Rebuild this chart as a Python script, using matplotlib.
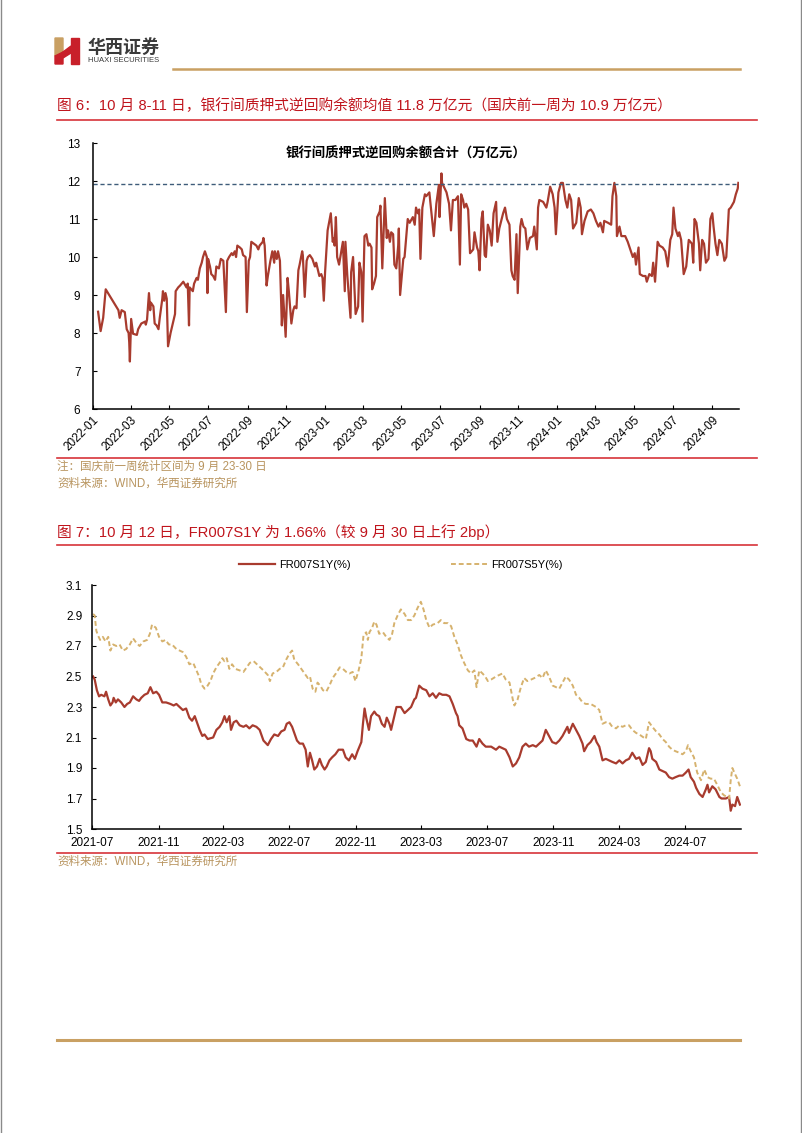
import numpy as np
import pandas as pd
import matplotlib
matplotlib.use('Agg')
import matplotlib.pyplot as plt
import matplotlib.dates as mdates
from matplotlib.lines import Line2D
from matplotlib.patches import Polygon

plt.rcParams['font.family'] = ['Liberation Sans', 'Noto Sans CJK SC', 'DejaVu Sans']

# ---- data: chart 1, interbank pledged reverse repo balance (trillion yuan)
# days counted from 2022-01-01
repo_days = [8, 12, 16, 20, 40, 42, 45, 50, 53, 56, 57, 58, 60, 63, 69, 71, 76, 82, 83, 85,
             88, 90, 91, 95, 97, 100, 103, 105, 109, 110, 112, 114, 116, 118, 122, 129, 130, 134, 137, 142,
             147, 149, 151, 152, 157, 159, 163, 165, 168, 171, 173, 176, 179, 180, 181, 184, 186, 189, 192, 194,
             198, 201, 205, 209, 211, 214, 218, 220, 223, 225, 227, 231, 234, 236, 240, 242, 245, 247, 249, 253,
             257, 260, 262, 267, 268, 270, 273, 275, 279, 282, 285, 286, 289, 291, 294, 297, 299, 303, 306, 308,
             312, 315, 317, 320, 323, 325, 329, 330, 333, 336, 338, 341, 345, 349, 351, 356, 359, 361, 363, 365,
             369, 374, 377, 379, 380, 382, 384, 387, 390, 393, 396, 397, 400, 405, 406, 409, 413, 417, 419, 422,
             424, 427, 430, 433, 435, 438, 439, 442, 445, 447, 451, 452, 455, 459, 462, 464, 467, 469, 472, 474,
             477, 480, 481, 483, 488, 490, 495, 498, 503, 506, 508, 511, 513, 515, 518, 522, 524, 529, 536, 540,
             544, 545, 548, 549, 556, 560, 563, 566, 570, 574, 577, 579, 582, 584, 587, 590, 593, 598, 600, 604,
             606, 608, 611, 613, 616, 618, 621, 624, 627, 630, 634, 636, 639, 645, 648, 651, 655, 658, 660, 663,
             666, 668, 672, 674, 677, 680, 683, 687, 692, 694, 698, 700, 702, 708, 713, 715, 719, 723, 726, 728,
             732, 736, 739, 743, 746, 749, 752, 755, 760, 764, 767, 769, 773, 778, 783, 787, 791, 795, 798, 802,
             804, 810, 815, 817, 820, 823, 824, 828, 831, 837, 841, 845, 849, 852, 854, 858, 860, 865, 869, 871,
             875, 879, 881, 884, 888, 891, 896, 900, 904, 908, 911, 913, 916, 920, 922, 925, 929, 933, 937, 942,
             944, 946, 949, 953, 955, 958, 961, 964, 968, 971, 974, 976, 979, 982, 985, 989, 993, 996, 1000, 1003,
             1008, 1011, 1014, 1015]
repo_vals = [8.56, 8.05, 8.40, 9.15, 8.60, 8.40, 8.60, 8.55, 8.10, 8.00, 7.75, 7.25, 8.37, 7.98, 7.95, 8.10, 8.25, 8.30, 8.22, 8.35,
             9.05, 8.60, 8.80, 8.70, 8.25, 8.20, 8.10, 8.40, 8.90, 9.10, 8.85, 9.05, 8.90, 7.65, 8.00, 8.50, 9.10, 9.20, 9.25, 9.35,
             9.20, 9.30, 8.20, 9.20, 9.10, 9.30, 9.45, 9.40, 9.70, 9.85, 10.00, 10.15, 10.00, 9.05, 9.95, 9.75, 9.55, 9.50, 9.40, 9.75,
             9.70, 9.95, 9.90, 8.55, 9.90, 10.00, 10.10, 10.05, 10.15, 10.00, 10.30, 10.25, 10.20, 10.05, 10.00, 8.55, 9.90, 10.00, 10.40, 10.35,
             10.30, 10.20, 10.30, 10.40, 10.50, 10.30, 9.25, 9.50, 9.90, 10.15, 9.85, 10.15, 9.95, 10.15, 9.90, 8.20, 9.00, 7.90, 9.45, 9.10,
             8.25, 8.60, 8.70, 8.65, 9.65, 9.80, 10.15, 10.05, 8.95, 9.90, 10.00, 10.05, 9.95, 9.75, 9.85, 9.50, 9.55, 9.45, 8.85, 9.60,
             10.70, 11.15, 10.40, 10.50, 10.30, 11.05, 10.00, 9.80, 10.10, 10.40, 9.10, 10.40, 9.50, 8.40, 9.60, 10.00, 8.50, 8.70, 9.85, 9.60,
             8.30, 10.55, 10.60, 10.30, 10.35, 10.25, 9.15, 9.30, 9.50, 11.05, 11.20, 11.35, 9.70, 11.55, 10.50, 10.70, 10.40, 10.65, 10.60, 9.80,
             9.70, 10.30, 10.75, 9.00, 9.95, 10.00, 11.00, 10.90, 11.05, 10.85, 11.30, 11.15, 11.25, 9.95, 11.30, 11.65, 11.60, 11.70, 10.55, 11.40,
             11.90, 11.05, 12.20, 11.95, 11.70, 11.40, 10.70, 11.50, 11.50, 11.60, 9.80, 11.65, 11.50, 11.30, 11.40, 11.25, 10.10, 10.20, 10.65, 10.25,
             10.15, 9.65, 11.00, 11.20, 10.05, 10.00, 10.85, 10.70, 10.30, 11.15, 11.45, 10.40, 10.75, 11.15, 11.30, 11.00, 10.85, 9.65, 9.50, 9.40,
             10.60, 9.05, 10.80, 11.00, 10.80, 10.75, 10.20, 10.50, 10.55, 10.80, 10.20, 11.30, 11.50, 11.45, 11.30, 11.45, 11.85, 11.65, 11.30, 10.60,
             11.70, 11.95, 11.95, 11.50, 11.30, 11.65, 11.50, 10.75, 10.90, 11.55, 11.30, 10.60, 10.95, 11.20, 11.25, 11.15, 10.95, 10.80, 10.90, 10.65,
             10.95, 10.90, 10.85, 11.60, 11.95, 11.60, 10.55, 10.80, 10.55, 10.55, 10.40, 10.20, 10.00, 10.10, 9.80, 10.25, 9.55, 9.50, 9.50, 9.35,
             9.55, 9.50, 9.85, 9.35, 10.40, 10.30, 10.25, 10.15, 9.75, 10.45, 10.60, 11.30, 10.75, 10.55, 10.65, 10.45, 9.55, 9.75, 10.45, 10.35,
             9.85, 11.00, 10.90, 10.35, 9.65, 10.45, 10.35, 9.85, 9.95, 11.00, 11.15, 10.80, 10.35, 10.05, 10.45, 10.35, 9.90, 10.00, 11.25, 11.30,
             11.45, 11.65, 11.80, 11.95]
repo_ref = 11.93

# ---- data: chart 2, FR007 swap rates (%), days counted from 2021-07-01
s1y_days = [2, 5, 9, 13, 17, 23, 26, 30, 34, 38, 40, 44, 48, 54, 60, 65, 70, 76, 82, 87,
            91, 97, 103, 108, 113, 119, 124, 130, 137, 145, 151, 156, 162, 168, 174, 180, 185, 190, 194, 199,
            204, 208, 214, 224, 230, 236, 241, 245, 249, 254, 257, 262, 267, 273, 280, 285, 291, 297, 304, 310,
            317, 325, 331, 337, 344, 350, 356, 360, 365, 370, 374, 379, 384, 390, 395, 399, 403, 407, 411, 416,
            421, 425, 430, 434, 439, 444, 450, 456, 464, 469, 475, 481, 486, 491, 498, 501, 504, 507, 512, 516,
            522, 526, 531, 536, 541, 545, 550, 553, 557, 563, 571, 578, 584, 590, 596, 599, 605, 611, 618, 624,
            630, 636, 642, 648, 655, 661, 667, 673, 676, 679, 685, 692, 698, 704, 711, 716, 722, 728, 738, 747,
            753, 759, 765, 772, 778, 784, 790, 796, 802, 808, 815, 821, 827, 833, 839, 845, 851, 858, 864, 870,
            876, 879, 882, 889, 895, 901, 907, 910, 916, 922, 929, 933, 938, 944, 950, 956, 962, 969, 975, 981,
            987, 993, 999, 1006, 1012, 1018, 1024, 1030, 1033, 1036, 1043, 1049, 1055, 1061, 1067, 1073, 1079, 1086, 1092, 1098,
            1103, 1107, 1113, 1117, 1123, 1129, 1135, 1138, 1141, 1147, 1153, 1160, 1164, 1172, 1178, 1181, 1184, 1189, 1193, 1198]
s1y_vals = [2.50, 2.48, 2.41, 2.37, 2.38, 2.37, 2.40, 2.35, 2.31, 2.33, 2.36, 2.33, 2.35, 2.33, 2.30, 2.32, 2.33, 2.37, 2.35, 2.34,
            2.36, 2.38, 2.39, 2.43, 2.39, 2.40, 2.38, 2.33, 2.33, 2.32, 2.31, 2.32, 2.30, 2.28, 2.29, 2.23, 2.21, 2.24, 2.20, 2.15,
            2.11, 2.12, 2.09, 2.10, 2.15, 2.17, 2.20, 2.24, 2.20, 2.24, 2.15, 2.20, 2.21, 2.18, 2.17, 2.18, 2.16, 2.18, 2.17, 2.15,
            2.08, 2.05, 2.09, 2.12, 2.11, 2.14, 2.15, 2.19, 2.20, 2.17, 2.13, 2.08, 2.06, 2.06, 2.02, 1.91, 2.00, 1.95, 1.89, 1.91,
            1.96, 1.92, 1.89, 1.91, 1.95, 1.97, 1.99, 2.02, 2.02, 1.97, 1.95, 1.99, 1.96, 2.01, 2.07, 2.19, 2.29, 2.23, 2.15, 2.24,
            2.27, 2.25, 2.24, 2.19, 2.17, 2.23, 2.19, 2.15, 2.21, 2.30, 2.30, 2.26, 2.28, 2.30, 2.35, 2.36, 2.44, 2.42, 2.41, 2.37,
            2.39, 2.36, 2.39, 2.38, 2.38, 2.37, 2.32, 2.26, 2.24, 2.18, 2.16, 2.09, 2.08, 2.08, 2.04, 2.09, 2.06, 2.04, 2.04, 2.02,
            2.04, 2.03, 2.02, 1.97, 1.91, 1.93, 1.97, 2.04, 2.06, 2.04, 2.05, 2.04, 2.06, 2.08, 2.15, 2.11, 2.07, 2.06, 2.08, 2.11,
            2.15, 2.17, 2.13, 2.19, 2.15, 2.11, 2.06, 2.01, 2.05, 2.07, 2.11, 2.07, 2.04, 1.95, 1.96, 1.95, 1.94, 1.93, 1.95, 1.93,
            1.95, 1.96, 2.00, 1.96, 1.97, 1.92, 1.94, 2.03, 2.01, 1.96, 1.94, 1.89, 1.88, 1.87, 1.84, 1.83, 1.84, 1.85, 1.85, 1.87,
            1.89, 1.84, 1.81, 1.77, 1.73, 1.71, 1.76, 1.79, 1.74, 1.78, 1.76, 1.71, 1.70, 1.70, 1.71, 1.62, 1.66, 1.65, 1.71, 1.66]

s5y_days = [2, 5, 8, 11, 15, 20, 25, 30, 34, 39, 45, 51, 57, 63, 70, 76, 82, 88, 95, 102,
            107, 111, 118, 124, 130, 136, 142, 148, 156, 162, 168, 174, 180, 187, 193, 198, 202, 208, 212, 219,
            224, 230, 236, 241, 245, 249, 254, 259, 265, 273, 280, 286, 292, 299, 305, 311, 317, 325, 329, 334,
            341, 347, 353, 359, 365, 370, 374, 381, 387, 393, 399, 403, 408, 413, 417, 422, 427, 433, 439, 445,
            451, 458, 464, 470, 476, 482, 487, 493, 498, 502, 507, 510, 513, 518, 522, 526, 531, 538, 544, 550,
            555, 559, 565, 571, 578, 584, 590, 596, 602, 608, 613, 618, 624, 630, 639, 645, 651, 658, 664, 670,
            676, 682, 688, 695, 701, 707, 711, 716, 722, 727, 732, 738, 747, 753, 759, 765, 772, 778, 781, 787,
            793, 799, 805, 812, 818, 827, 833, 839, 845, 852, 858, 864, 870, 876, 882, 889, 895, 901, 907, 913,
            922, 932, 938, 944, 950, 956, 962, 969, 975, 981, 987, 993, 999, 1006, 1012, 1024, 1030, 1036, 1043, 1049,
            1055, 1061, 1067, 1073, 1079, 1086, 1092, 1098, 1102, 1107, 1113, 1119, 1126, 1132, 1138, 1144, 1150, 1156, 1163, 1169,
            1175, 1178, 1181, 1184, 1189, 1193, 1198]
s5y_vals = [2.91, 2.90, 2.80, 2.77, 2.74, 2.76, 2.73, 2.76, 2.67, 2.71, 2.70, 2.71, 2.67, 2.68, 2.71, 2.75, 2.72, 2.70, 2.73, 2.74,
            2.78, 2.84, 2.82, 2.76, 2.73, 2.74, 2.71, 2.71, 2.68, 2.67, 2.66, 2.63, 2.58, 2.59, 2.54, 2.50, 2.45, 2.42, 2.43, 2.47,
            2.52, 2.56, 2.59, 2.62, 2.60, 2.62, 2.55, 2.58, 2.55, 2.54, 2.53, 2.56, 2.59, 2.60, 2.58, 2.56, 2.54, 2.51, 2.47, 2.52,
            2.53, 2.55, 2.56, 2.61, 2.65, 2.67, 2.61, 2.58, 2.55, 2.52, 2.49, 2.50, 2.42, 2.40, 2.46, 2.44, 2.41, 2.40, 2.44, 2.49,
            2.52, 2.56, 2.55, 2.53, 2.52, 2.53, 2.47, 2.54, 2.62, 2.77, 2.79, 2.74, 2.79, 2.82, 2.86, 2.84, 2.78, 2.79, 2.76, 2.74,
            2.78, 2.85, 2.90, 2.94, 2.91, 2.87, 2.87, 2.90, 2.95, 2.99, 2.94, 2.87, 2.82, 2.84, 2.85, 2.87, 2.85, 2.85, 2.83, 2.76,
            2.71, 2.64, 2.59, 2.54, 2.52, 2.54, 2.43, 2.54, 2.52, 2.50, 2.47, 2.48, 2.50, 2.51, 2.52, 2.48, 2.46, 2.35, 2.31, 2.35,
            2.43, 2.49, 2.47, 2.48, 2.49, 2.51, 2.49, 2.54, 2.50, 2.44, 2.43, 2.42, 2.46, 2.50, 2.48, 2.44, 2.38, 2.36, 2.33, 2.32,
            2.32, 2.30, 2.28, 2.19, 2.20, 2.20, 2.17, 2.16, 2.18, 2.17, 2.18, 2.18, 2.15, 2.13, 2.12, 2.09, 2.20, 2.17, 2.14, 2.12,
            2.09, 2.07, 2.04, 2.02, 2.01, 2.00, 1.99, 2.01, 2.05, 2.01, 1.97, 1.87, 1.82, 1.89, 1.84, 1.83, 1.83, 1.79, 1.74, 1.72,
            1.71, 1.70, 1.82, 1.90, 1.86, 1.83, 1.78]

repo_dates = pd.Timestamp('2022-01-01') + pd.to_timedelta(repo_days, unit='D')
s1y_dates = pd.Timestamp('2021-07-01') + pd.to_timedelta(s1y_days, unit='D')
s5y_dates = pd.Timestamp('2021-07-01') + pd.to_timedelta(s5y_days, unit='D')

RED_TXT = '#C0141C'
RED_LINE = '#D7333A'
GOLD = '#C9A063'
NOTE = '#B8945E'
SER_RED = '#A83B2E'
SER_GOLD = '#D6B26E'

W, H = 802, 1133
fig = plt.figure(figsize=(W / 100, H / 100), dpi=100)


def fx(x):
    return x / W


def fy(y):
    return 1 - y / H


def hline(y, x0, x1, color, lw):
    fig.add_artist(Line2D([fx(x0), fx(x1)], [fy(y), fy(y)], color=color, lw=lw))


# page border
fig.add_artist(Line2D([fx(0.5), fx(0.5)], [0, 1], color='#8a8a8a', lw=1))
fig.add_artist(Line2D([fx(800.5), fx(800.5)], [0, 1], color='#8a8a8a', lw=1))

# header logo
fig.add_artist(Polygon([(fx(55), fy(38)), (fx(63), fy(38)), (fx(63), fy(52)), (fx(55), fy(56))],
                       closed=True, color='#C9A063'))
fig.add_artist(Polygon([(fx(55), fy(56)), (fx(63), fy(52)), (fx(63), fy(64)), (fx(55), fy(64))],
                       closed=True, color='#C8202A'))
fig.add_artist(Polygon([(fx(71), fy(38)), (fx(79), fy(38)), (fx(79), fy(64)), (fx(71), fy(64))],
                       closed=True, color='#C8202A'))
fig.add_artist(Polygon([(fx(63), fy(52)), (fx(71), fy(46)), (fx(71), fy(53)), (fx(63), fy(58))],
                       closed=True, color='#C8202A'))
fig.text(fx(88), fy(47), '华西证券', fontsize=13, fontweight='bold', color='#3a3a3a',
         family=['Noto Sans CJK SC'], va='center', ha='left')
fig.text(fx(88), fy(61), 'HUAXI SECURITIES', fontsize=5.5, color='#3a3a3a', va='center', ha='left')
hline(69, 173, 740, GOLD, 1.8)

# figure 6 title
fig.text(fx(57), fy(106), '图 6：10 月 8-11 日，银行间质押式逆回购余额均值 11.8 万亿元（国庆前一周为 10.9 万亿元）',
         fontsize=10.6, color=RED_TXT, va='center', ha='left')
hline(120, 57, 757, RED_LINE, 1.2)

ax1 = fig.add_axes([fx(93), fy(409), (739 - 93) / W, 266 / H])
ax1.plot(repo_dates, repo_vals, color=SER_RED, lw=1.6)
ax1.axhline(repo_ref, color='#3E5C7A', lw=1, ls=(0, (3, 2)))
ax1.set_ylim(6, 13)
ax1.set_yticks(range(6, 14))
ax1.set_xlim(pd.Timestamp('2022-01-01'), pd.Timestamp('2024-10-13'))
ax1.xaxis.set_major_locator(mdates.MonthLocator(bymonth=[1, 3, 5, 7, 9, 11]))
ax1.xaxis.set_major_formatter(mdates.DateFormatter('%Y-%m'))
for lab in ax1.get_xticklabels():
    lab.set_rotation(45)
    lab.set_ha('right')
    lab.set_rotation_mode('anchor')
ax1.text(0.485, 0.985, '银行间质押式逆回购余额合计（万亿元）', transform=ax1.transAxes,
         fontsize=9.6, fontweight='bold', ha='center', va='top')
for s in ['top', 'right']:
    ax1.spines[s].set_visible(False)
for s in ['left', 'bottom']:
    ax1.spines[s].set_linewidth(1.1)
ax1.tick_params(direction='in', length=3, labelsize=8.5)
ax1.tick_params(axis='y', pad=9)

hline(458, 57, 757, RED_LINE, 1.2)
fig.text(fx(57), fy(467), '注：国庆前一周统计区间为 9 月 23-30 日', fontsize=8.3, color=NOTE, va='center', ha='left')
fig.text(fx(57), fy(484), '资料来源：WIND，华西证券研究所', fontsize=8.3, color=NOTE, va='center', ha='left')

# figure 7 title
fig.text(fx(57), fy(532), '图 7：10 月 12 日，FR007S1Y 为 1.66%（较 9 月 30 日上行 2bp）',
         fontsize=10.6, color=RED_TXT, va='center', ha='left')
hline(545, 57, 757, RED_LINE, 1.2)

ax2 = fig.add_axes([fx(92), fy(829), (741 - 92) / W, 244 / H])
ax2.plot(s1y_dates, s1y_vals, color=SER_RED, lw=1.6, label='FR007S1Y(%)')
ax2.plot(s5y_dates, s5y_vals, color=SER_GOLD, lw=1.4, ls=(0, (2.5, 1.5)), label='FR007S5Y(%)')
ax2.set_ylim(1.5, 3.1)
ax2.set_yticks(np.round(np.arange(1.5, 3.11, 0.2), 1))
ax2.yaxis.set_major_formatter(matplotlib.ticker.FormatStrFormatter('%.1f'))
ax2.set_xlim(pd.Timestamp('2021-07-01'), pd.Timestamp('2024-10-13'))
ax2.xaxis.set_major_locator(mdates.MonthLocator(bymonth=[3, 7, 11]))
ax2.xaxis.set_major_formatter(mdates.DateFormatter('%Y-%m'))
for s in ['top', 'right']:
    ax2.spines[s].set_visible(False)
for s in ['left', 'bottom']:
    ax2.spines[s].set_linewidth(1.1)
ax2.tick_params(direction='in', length=3, labelsize=8.5)
ax2.tick_params(axis='y', pad=7)
ax2.tick_params(axis='x', pad=6)
ax2.legend(loc='center', bbox_to_anchor=(fx(401), fy(565)), bbox_transform=fig.transFigure,
           ncol=2, frameon=False, fontsize=8, handlelength=3.2, columnspacing=9, handletextpad=0.4)

hline(853, 57, 757, RED_LINE, 1.2)
fig.text(fx(57), fy(862), '资料来源：WIND，华西证券研究所', fontsize=8.3, color=NOTE, va='center', ha='left')

# footer
hline(1040, 57, 740, GOLD, 2.2)

fig.savefig('out.png', dpi=100)
